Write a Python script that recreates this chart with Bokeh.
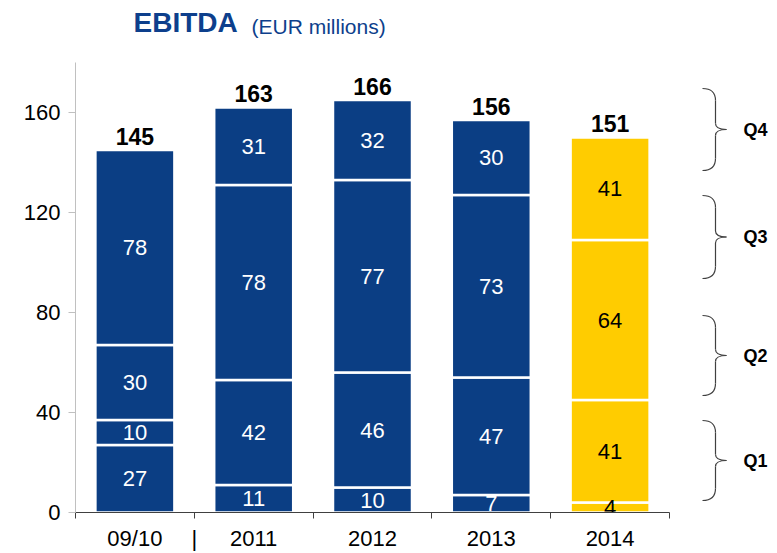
import numpy as np
from bokeh.plotting import figure
from bokeh.models import ColumnDataSource, Range1d, FixedTicker
from bokeh.layouts import row, column
from bokeh.embed import file_html
from bokeh.resources import INLINE
from bokeh.core.properties import value

# ---------------- data ----------------
periods = ["09/10", "2011", "2012", "2013", "2014"]
q1 = [27, 11, 10, 7, 4]
q2 = [10, 42, 46, 47, 41]
q3 = [30, 78, 77, 73, 64]
q4 = [78, 31, 32, 30, 41]
totals = [145, 163, 166, 156, 151]
y_ticks = [0, 40, 80, 120, 160]
quarter_names = ["Q1", "Q2", "Q3", "Q4"]
brace_lo = [4.8, 46.8, 93.6, 136.8]
brace_hi = [36.8, 78.8, 126.8, 169.6]

BLUE = "#0B3E84"
YELLOW = "#FFCC00"
TITLE_BLUE = "#0D3F8C"
FONT = "Liberation Sans"
bar_colors = [BLUE, BLUE, BLUE, BLUE, YELLOW]
label_colors = ["white", "white", "white", "white", "black"]

# ---------------- stacked segments ----------------
stack = np.array([q1, q2, q3, q4], dtype=float)
tops = stack.cumsum(axis=0)
bottoms = tops - stack
xs = np.arange(len(periods)) + 0.5
nq = stack.shape[0]
seg = ColumnDataSource(dict(
    x=np.tile(xs, nq),
    bottom=bottoms.ravel(),
    top=tops.ravel(),
    mid=((bottoms + tops) / 2).ravel(),
    fill=np.tile(bar_colors, nq),
    tcol=np.tile(label_colors, nq),
    txt=[str(int(v)) for v in stack.ravel()],
))

W_TOTAL, H_TOTAL = 777, 553
H_TITLE = 62
W_MAIN = 676
W_BRACE = W_TOTAL - W_MAIN
H = H_TOTAL - H_TITLE
BOT = 41
yr = Range1d(0, 180)
upp = (yr.end - yr.start) / (H - BOT)   # data units per pixel

tot = ColumnDataSource(dict(x=xs, y=tops[-1] + 14 * upp, txt=[str(t) for t in totals]))

# ---------------- title strip ----------------
t = figure(width=W_TOTAL, height=H_TITLE, x_range=Range1d(0, W_TOTAL), y_range=Range1d(H_TITLE, 0),
           output_backend="svg", toolbar_location=None,
           x_axis_location=None, y_axis_location=None, min_border=0)
t.outline_line_color = None
t.xgrid.visible = False
t.ygrid.visible = False
t.text(x=[133], y=[22], text=["EBITDA"], text_baseline="middle", text_align="left",
       text_font=value(FONT), text_font_size="28px", text_font_style="bold", text_color=TITLE_BLUE)
t.text(x=[251], y=[25.5], text=["(EUR millions)"], text_baseline="middle", text_align="left",
       text_font=value(FONT), text_font_size="21px", text_color=TITLE_BLUE)

# ---------------- main chart ----------------
p = figure(width=W_MAIN, height=H, x_range=Range1d(0, len(periods)), y_range=yr,
           output_backend="svg", toolbar_location=None,
           min_border_left=75, min_border_right=7, min_border_top=0, min_border_bottom=BOT)
p.outline_line_color = None
p.xgrid.visible = False
p.ygrid.visible = False

p.vbar(x="x", bottom="bottom", top="top", width=0.665, source=seg,
       fill_color="fill", line_color="white", line_width=2.5)
p.text(x="x", y="mid", text="txt", source=seg, text_color="tcol",
       text_align="center", text_baseline="middle",
       text_font=value(FONT), text_font_size="22px")
p.text(x="x", y="y", text="txt", source=tot, text_color="black",
       text_align="center", text_baseline="middle",
       text_font=value(FONT), text_font_size="23px", text_font_style="bold")

# y axis
ya = p.yaxis[0]
ya.ticker = FixedTicker(ticks=y_ticks)
ya.axis_line_color = "#C0C0C0"
ya.major_tick_line_color = "#C0C0C0"
ya.major_tick_out = 7
ya.major_tick_in = 0
ya.minor_tick_line_color = None
ya.major_label_text_font = FONT
ya.major_label_text_font_size = "22px"
ya.major_label_text_color = "black"
ya.major_label_standoff = 8

# x axis: labels at bar centres, ticks at category borders, "|" separator after 09/10
xa = p.xaxis[0]
xa.ticker = FixedTicker(ticks=list(xs) + [1.0], minor_ticks=list(range(len(periods) + 1)))
overrides = {float(x): lab for x, lab in zip(xs, periods)}
overrides[1.0] = "|"
xa.major_label_overrides = overrides
xa.axis_line_color = "#404040"
xa.major_tick_out = 0
xa.major_tick_in = 0
xa.minor_tick_line_color = "#404040"
xa.minor_tick_out = 6
xa.minor_tick_in = 0
xa.major_label_text_font = FONT
xa.major_label_text_font_size = "22px"
xa.major_label_text_color = "black"
xa.major_label_standoff = 7

# ---------------- braces ----------------
b = figure(width=W_BRACE, height=H, x_range=Range1d(0, W_BRACE), y_range=yr,
           output_backend="svg", toolbar_location=None,
           x_axis_location=None, y_axis_location=None,
           min_border_left=0, min_border_right=0, min_border_top=0, min_border_bottom=BOT)
b.outline_line_color = None
b.xgrid.visible = False
b.ygrid.visible = False

lo = np.array(brace_lo)
hi = np.array(brace_hi)
mid = (lo + hi) / 2
xh, xv, xt = 26, 39, 50
rh = 12 * upp
rt = 6 * upp
n = len(lo)
qx0 = np.concatenate([np.full(n, xh), np.full(n, xv), np.full(n, xt), np.full(n, xv)])
qy0 = np.concatenate([hi, mid + rt, mid, lo + rh])
qx1 = np.concatenate([np.full(n, xv), np.full(n, xt), np.full(n, xv), np.full(n, xh)])
qy1 = np.concatenate([hi - rh, mid, mid - rt, lo])
qcx = np.full(4 * n, xv)
qcy = np.concatenate([hi, mid, mid, lo])
b.quadratic(x0=qx0, y0=qy0, x1=qx1, y1=qy1, cx=qcx, cy=qcy, line_color="#404040", line_width=1.2)
b.segment(x0=np.full(2 * n, xv), x1=np.full(2 * n, xv),
          y0=np.concatenate([hi - rh, mid - rt]), y1=np.concatenate([mid + rt, lo + rh]),
          line_color="#404040", line_width=1.2)
b.text(x=np.full(n, 67), y=mid, text=quarter_names, text_align="left", text_baseline="middle",
       text_font=value(FONT), text_font_size="18px", text_font_style="bold", text_color="black")

layout = column(t, row(p, b))
open("out.html", "w").write(file_html(layout, INLINE))
